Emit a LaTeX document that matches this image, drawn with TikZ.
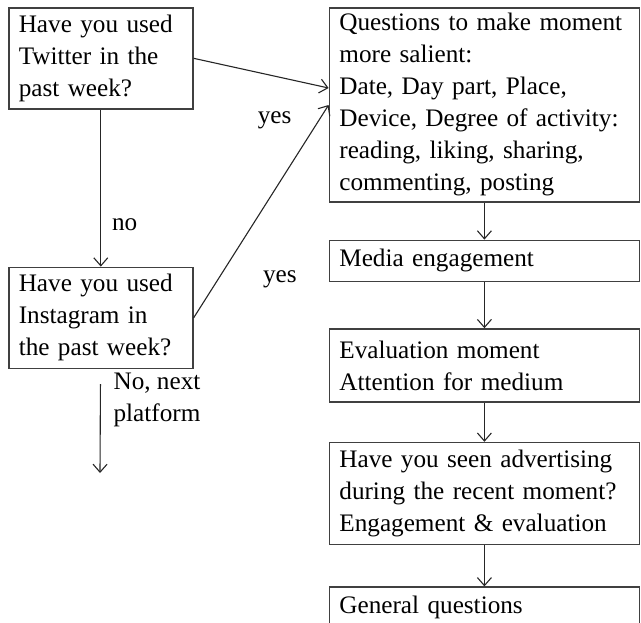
\documentclass[tikz,border=0pt]{standalone}
\usepackage{fontspec}
\setmainfont{Liberation Serif}
\usetikzlibrary{arrows.meta,positioning}

\begin{document}
\begin{tikzpicture}[
  node distance=18.5pt,
  font=\fontsize{12.6pt}{16pt}\selectfont,
  qbox/.style={draw=black!75,line width=0.8pt,align=left,inner xsep=5pt,inner ysep=0pt,
    anchor=north west},
  leftbox/.style={qbox,text width=82pt,minimum height=50.5pt},
  rightbox/.style={qbox,text width=145pt},
  arrow/.style={-{Straight Barb[length=4pt,width=7pt]},line width=0.55pt,draw=black!85}
]
\useasboundingbox (0,0) rectangle (320.5pt,-311pt);
\node[leftbox] (twitter) at (4pt,-3.5pt) {Have you used\\Twitter in the\\past week?};
\node[leftbox,below=78.5pt of twitter] (insta) {Have you used\\Instagram in\\the past week?};
\node[rightbox,minimum height=97pt,right=67.5pt of twitter.north east,anchor=north west] (salient)
  {Questions to make moment\\more salient:\\Date, Day part, Place,\\Device, Degree of activity:\\reading, liking, sharing,\\commenting, posting};
\node[rightbox,minimum height=20.5pt,below=of salient] (media) {Media engagement};
\node[rightbox,minimum height=36.5pt,below=23pt of media] (evalm) {Evaluation moment\\Attention for medium};
\node[rightbox,minimum height=51pt,below=19.5pt of evalm] (adseen)
  {Have you seen advertising\\during the recent moment?\\Engagement \& evaluation};
\node[rightbox,minimum height=20pt,below=20.5pt of adseen] (general) {General questions};
\coordinate (nextend) at (50pt,-236.5pt);
% left column
\draw[arrow] (twitter) -- node[right=2pt,pos=0.73] {no} (insta);
\draw[arrow,shorten <=7.5pt] (insta) -- node[right=3pt,pos=0.3,align=left] {No, next\\platform} (nextend);
% into the question block
\draw[arrow] (twitter.east) -- node[pos=0.6,yshift=-22pt] {yes} ([yshift=-40.5pt]salient.north west);
\draw[arrow] (insta.east) -- node[pos=0.18,xshift=31pt] {yes} ([yshift=-49pt]salient.north west);
% right column
\draw[arrow] (salient) -- (media);
\draw[arrow] (media) -- (evalm);
\draw[arrow] (evalm) -- (adseen);
\draw[arrow] (adseen) -- (general);
\end{tikzpicture}
\end{document}
